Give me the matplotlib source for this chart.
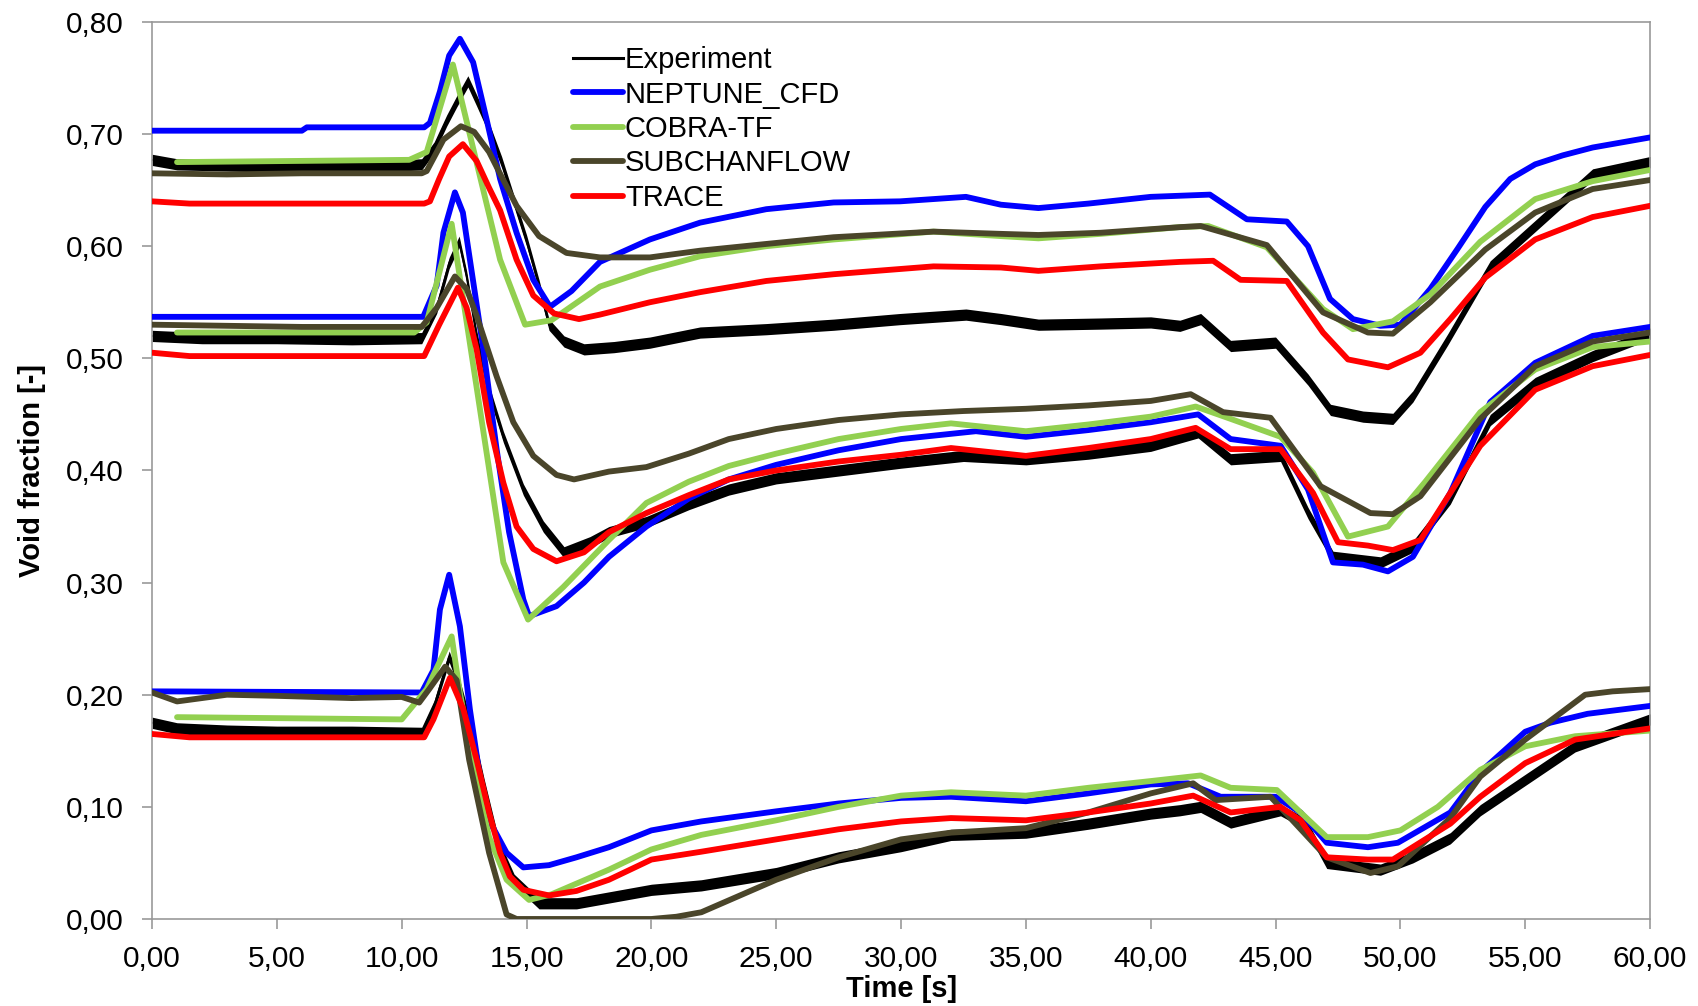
import matplotlib
matplotlib.use("Agg")
import matplotlib.pyplot as plt
from matplotlib.ticker import FuncFormatter

plt.rcParams['font.family'] = ['Liberation Sans', 'DejaVu Sans']

# ---------------- upper group ----------------
exp_top_t = [0, 1, 3, 5, 7, 9, 10.8, 11.3, 11.8, 12.2, 12.65, 13.0, 13.5, 14.0, 14.5, 15.0, 15.5, 15.9, 16.5,
             17.3, 18.5, 19.94, 21.95, 24.6, 27.3, 29.96, 32.6, 34, 35.5, 38, 40, 41.17, 42, 43.2, 45.0,
             46.3, 47.2, 48.5, 49.7, 50.5, 51.9, 53.6, 55.4, 57.7, 60]
exp_top_v = [0.677, 0.673, 0.672, 0.671, 0.672, 0.671, 0.673, 0.688, 0.712, 0.729, 0.747, 0.730, 0.705, 0.675,
             0.640, 0.605, 0.565, 0.530, 0.515, 0.508, 0.510, 0.514, 0.523, 0.526, 0.530, 0.535, 0.539, 0.535,
             0.530, 0.531, 0.532, 0.529, 0.535, 0.511, 0.514, 0.481, 0.454, 0.448, 0.446, 0.466, 0.517,
             0.582, 0.618, 0.664, 0.675]

nep_top_t = [0, 6, 6.2, 10.9, 11.13, 11.53, 11.9, 12.33, 12.86, 13.4, 13.94, 14.6, 15.27, 15.94, 16.8, 17.94,
             19.94, 21.95, 24.6, 27.3, 29.96, 32.6, 34, 35.5, 37.5, 40, 42.37, 43.85, 45.45, 46.3, 47.18,
             48.1, 49.2, 50.0, 51.2, 52.3, 53.4, 54.4, 55.4, 56.5, 57.7, 60]
nep_top_v = [0.703, 0.703, 0.706, 0.706, 0.710, 0.738, 0.770, 0.785, 0.764, 0.713, 0.660, 0.612, 0.570, 0.546,
             0.560, 0.586, 0.606, 0.621, 0.633, 0.639, 0.640, 0.644, 0.637, 0.634, 0.638, 0.644, 0.646,
             0.624, 0.622, 0.600, 0.553, 0.535, 0.529, 0.530, 0.562, 0.598, 0.635, 0.660, 0.673, 0.681,
             0.688, 0.697]

cob_top_t = [1.0, 10.3, 11.0, 12.05, 13.94, 14.94, 16.0, 17.94, 19.94, 21.95, 24.6, 27.3, 31.3, 34, 35.5, 38,
             41.17, 42.3, 44.65, 46.9, 48.1, 49.7, 51.2, 53.2, 55.4, 57.7, 60]
cob_top_v = [0.675, 0.677, 0.684, 0.762, 0.588, 0.530, 0.534, 0.564, 0.579, 0.591, 0.600, 0.606, 0.613, 0.609,
             0.607, 0.611, 0.617, 0.618, 0.599, 0.544, 0.526, 0.533, 0.557, 0.604, 0.642, 0.658, 0.668]

sub_top_t = [0, 3, 6, 10.8, 11.0, 11.67, 12.37, 12.9, 13.5, 14.0, 14.6, 15.5, 16.6, 17.94, 19.94, 21.95, 24.6,
             27.3, 31.3, 34, 35.5, 38, 41.17, 42, 44.65, 46.9, 48.7, 49.7, 51.2, 53.4, 55.4, 57.7, 60]
sub_top_v = [0.665, 0.664, 0.665, 0.665, 0.667, 0.695, 0.707, 0.702, 0.684, 0.662, 0.636, 0.609, 0.594, 0.590,
             0.590, 0.596, 0.602, 0.608, 0.613, 0.611, 0.610, 0.612, 0.617, 0.618, 0.601, 0.541, 0.523,
             0.522, 0.550, 0.597, 0.630, 0.651, 0.659]

tra_top_t = [0, 1.5, 10.9, 11.13, 11.5, 11.9, 12.45, 13.0, 13.5, 13.94, 14.6, 15.27, 16.1, 17.1, 17.94, 19.94,
             21.95, 24.6, 27.3, 31.3, 34, 35.5, 38, 41.17, 42.5, 43.6, 45.45, 46.9, 47.9, 49.5, 50.8, 52.0,
             53.4, 55.4, 57.7, 60]
tra_top_v = [0.640, 0.638, 0.638, 0.640, 0.660, 0.680, 0.691, 0.676, 0.652, 0.632, 0.588, 0.556, 0.540, 0.535,
             0.539, 0.550, 0.559, 0.569, 0.575, 0.582, 0.581, 0.578, 0.582, 0.586, 0.587, 0.570, 0.569,
             0.523, 0.499, 0.492, 0.505, 0.535, 0.572, 0.606, 0.626, 0.636]

# ---------------- middle group ----------------
exp_mid_t = [0, 2, 5, 8, 10.8, 11.4, 11.9, 12.3, 12.6, 13.0, 13.4, 14.07, 14.87, 15.67, 16.5, 17.54, 18.3,
             19.8, 21.5, 23.1, 25, 27.5, 30, 32.5, 35, 37.5, 40, 41.9, 43.2, 45.2, 46.3, 47.3, 49.2, 50.5,
             52, 53.6, 55.4, 57.7, 60]
exp_mid_v = [0.520, 0.518, 0.518, 0.517, 0.518, 0.545, 0.585, 0.604, 0.573, 0.520, 0.478, 0.430, 0.383, 0.350,
             0.327, 0.336, 0.345, 0.354, 0.370, 0.383, 0.393, 0.400, 0.407, 0.413, 0.410, 0.415, 0.422,
             0.434, 0.410, 0.413, 0.362, 0.323, 0.318, 0.332, 0.375, 0.445, 0.478, 0.502, 0.522]

nep_mid_t = [0, 10.86, 11.4, 11.67, 12.13, 12.45, 12.67, 13.27, 13.8, 14.3, 14.87, 15.1, 16.2, 17.3, 18.3,
             19.8, 21.5, 23.1, 25, 27.5, 30, 33, 35, 37.5, 40, 41.9, 43.2, 45.2, 46.3, 47.3, 48.5, 49.5,
             50.5, 52, 53.6, 55.4, 57.7, 60]
nep_mid_v = [0.537, 0.537, 0.565, 0.612, 0.648, 0.630, 0.597, 0.508, 0.419, 0.345, 0.285, 0.270, 0.279, 0.300,
             0.323, 0.350, 0.375, 0.392, 0.405, 0.418, 0.428, 0.435, 0.430, 0.436, 0.443, 0.450, 0.428,
             0.422, 0.383, 0.318, 0.316, 0.310, 0.323, 0.380, 0.461, 0.496, 0.520, 0.528]

cob_mid_t = [1.0, 10.5, 11.0, 12.0, 14.07, 15.06, 16.47, 18.3, 19.8, 21.5, 23.1, 25, 27.5, 30, 32, 35, 37.5, 40,
             41.8, 43.2, 45.2, 46.5, 47.9, 49.5, 51, 53.2, 55.4, 57.7, 60]
cob_mid_v = [0.523, 0.523, 0.532, 0.620, 0.318, 0.267, 0.296, 0.338, 0.371, 0.390, 0.404, 0.415, 0.428, 0.437,
             0.442, 0.435, 0.441, 0.448, 0.457, 0.446, 0.430, 0.398, 0.341, 0.350, 0.390, 0.452, 0.490,
             0.510, 0.515]

sub_mid_t = [0, 3, 6, 9, 10.8, 11.4, 12.13, 12.6, 13.0, 13.8, 14.47, 15.27, 16.2, 16.9, 18.3, 19.8, 21.5, 23.1,
             25, 27.5, 30, 32.5, 35, 37.5, 40, 41.6, 42.9, 44.8, 46.8, 48.8, 49.7, 50.8, 53.2, 55.4, 57.7, 60]
sub_mid_v = [0.530, 0.529, 0.528, 0.528, 0.528, 0.545, 0.573, 0.562, 0.538, 0.484, 0.443, 0.413, 0.396, 0.392,
             0.399, 0.403, 0.415, 0.428, 0.437, 0.445, 0.450, 0.453, 0.455, 0.458, 0.462, 0.468, 0.452,
             0.447, 0.386, 0.362, 0.361, 0.377, 0.446, 0.493, 0.515, 0.523]

tra_mid_t = [0, 1.5, 10.9, 11.5, 12.25, 12.6, 13.0, 13.5, 14.07, 14.6, 15.27, 16.2, 17.3, 18.3, 19.8, 21.5,
             23.1, 25, 27.5, 30, 32, 35, 37.5, 40, 41.8, 43.2, 45.2, 46.5, 47.5, 48.7, 49.7, 50.8, 53.2, 55.4,
             57.7, 60]
tra_mid_v = [0.505, 0.502, 0.502, 0.530, 0.563, 0.545, 0.508, 0.443, 0.389, 0.350, 0.330, 0.319, 0.327, 0.345,
             0.362, 0.378, 0.392, 0.400, 0.408, 0.414, 0.420, 0.413, 0.420, 0.428, 0.438, 0.419, 0.419,
             0.380, 0.336, 0.333, 0.329, 0.338, 0.422, 0.472, 0.493, 0.503]

# ---------------- lower group ----------------
exp_bot_t = [0, 1, 3, 5, 8, 10.8, 11.3, 11.9, 12.3, 12.8, 13.3, 13.9, 14.5, 15.5, 17, 18.5, 20, 22, 25, 27.5,
             30, 32, 35, 37.5, 40, 41.17, 42, 43.2, 45.2, 46.2, 47.05, 49.2, 50.5, 52, 53.2, 55, 57, 60]
exp_bot_v = [0.175, 0.170, 0.168, 0.167, 0.167, 0.166, 0.190, 0.234, 0.210, 0.170, 0.120, 0.065, 0.035, 0.014,
             0.014, 0.020, 0.026, 0.030, 0.041, 0.055, 0.065, 0.075, 0.077, 0.085, 0.094, 0.097, 0.100,
             0.086, 0.097, 0.085, 0.050, 0.044, 0.055, 0.072, 0.097, 0.124, 0.154, 0.178]

nep_bot_t = [0, 10.8, 11.27, 11.53, 11.9, 12.33, 12.73, 13.13, 13.5, 14.2, 14.87, 15.9, 17.0, 18.3, 20, 22, 25,
             27.5, 30, 32, 35, 37.5, 40, 41.5, 42.8, 45, 46, 47.05, 48.7, 49.9, 52, 53.2, 55, 56, 57.5, 60]
nep_bot_v = [0.203, 0.202, 0.222, 0.276, 0.307, 0.261, 0.187, 0.127, 0.088, 0.059, 0.046, 0.048, 0.055, 0.064,
             0.079, 0.087, 0.096, 0.103, 0.108, 0.109, 0.105, 0.112, 0.120, 0.121, 0.109, 0.109, 0.095,
             0.068, 0.064, 0.068, 0.095, 0.131, 0.167, 0.175, 0.183, 0.190]

cob_bot_t = [1.0, 10.0, 11.0, 12.0, 12.33, 12.87, 13.5, 14.2, 15.1, 16.0, 18.3, 20, 22, 25, 27.5, 30, 32, 35,
             37.5, 40, 42, 43.2, 45.05, 47.05, 48.7, 50.0, 51.5, 53.2, 55, 57, 60]
cob_bot_v = [0.180, 0.178, 0.205, 0.252, 0.202, 0.136, 0.073, 0.035, 0.017, 0.022, 0.044, 0.062, 0.075, 0.088,
             0.100, 0.110, 0.113, 0.110, 0.117, 0.123, 0.128, 0.117, 0.115, 0.073, 0.073, 0.079, 0.100,
             0.133, 0.154, 0.163, 0.168]

sub_bot_t = [0, 1.0, 3.0, 5.0, 8.0, 10.0, 10.7, 11.1, 11.74, 12.2, 12.7, 13.5, 14.2, 14.6, 20, 21, 22, 25,
             27.5, 30, 32, 35, 37.5, 40, 41.7, 42.6, 44.8, 47.05, 48.8, 49.9, 52, 53.2, 55, 57.4, 58.5, 60]
sub_bot_v = [0.202, 0.194, 0.200, 0.199, 0.197, 0.198, 0.193, 0.205, 0.225, 0.213, 0.142, 0.059, 0.004, 0.000,
             0.000, 0.002, 0.006, 0.035, 0.055, 0.071, 0.077, 0.081, 0.095, 0.112, 0.121, 0.106, 0.109,
             0.055, 0.041, 0.047, 0.090, 0.127, 0.160, 0.200, 0.203, 0.205]

tra_bot_t = [0, 1.5, 10.9, 11.27, 11.93, 12.47, 13.0, 13.5, 13.94, 14.33, 14.87, 15.9, 17, 18.3, 20, 22, 25,
             27.5, 30, 32, 35, 37.5, 40, 41.7, 43.2, 45.2, 46, 47.05, 48.7, 49.7, 52, 53.2, 55, 57, 60]
tra_bot_v = [0.165, 0.162, 0.162, 0.178, 0.215, 0.187, 0.142, 0.095, 0.059, 0.038, 0.026, 0.021, 0.025, 0.035,
             0.053, 0.060, 0.071, 0.080, 0.087, 0.090, 0.088, 0.095, 0.103, 0.110, 0.095, 0.100, 0.088,
             0.055, 0.053, 0.053, 0.085, 0.109, 0.139, 0.160, 0.170]

series_names = ["Experiment", "NEPTUNE_CFD", "COBRA-TF", "SUBCHANFLOW", "TRACE"]
series_colors = ["#000000", "#0000FF", "#92D050", "#4A452A", "#FF0000"]
x_ticks = [0, 5, 10, 15, 20, 25, 30, 35, 40, 45, 50, 55, 60]
y_ticks = [0.0, 0.1, 0.2, 0.3, 0.4, 0.5, 0.6, 0.7, 0.8]

experiment = [(exp_top_t, exp_top_v), (exp_mid_t, exp_mid_v), (exp_bot_t, exp_bot_v)]
models = [
    [(nep_top_t, nep_top_v), (nep_mid_t, nep_mid_v), (nep_bot_t, nep_bot_v)],
    [(cob_top_t, cob_top_v), (cob_mid_t, cob_mid_v), (cob_bot_t, cob_bot_v)],
    [(sub_top_t, sub_top_v), (sub_mid_t, sub_mid_v), (sub_bot_t, sub_bot_v)],
    [(tra_top_t, tra_top_v), (tra_mid_t, tra_mid_v), (tra_bot_t, tra_bot_v)],
]

fig = plt.figure(figsize=(16.99, 10.06), dpi=100)
ax = fig.add_axes([0.0895, 0.0865, 0.8817, 0.8917])

# measured signal: thin trace with its scatter band
noise_half = 0.005
for i, (t, v) in enumerate(experiment):
    lo = [y - noise_half for y in v]
    hi = [y + noise_half for y in v]
    ax.fill_between(t, lo, hi, color="black", lw=0, zorder=2)
    ax.plot(t, v, color="black", lw=1.4, zorder=2,
            label=series_names[0] if i == 0 else None)

for k, groups in enumerate(models):
    for i, (t, v) in enumerate(groups):
        ax.plot(t, v, color=series_colors[k + 1], lw=4.2, zorder=3 + k,
                solid_joinstyle="round", solid_capstyle="round",
                label=series_names[k + 1] if i == 0 else None)

ax.set_xlim(0, 60)
ax.set_ylim(0, 0.8)
ax.set_xticks(x_ticks)
ax.set_yticks(y_ticks)
ax.xaxis.set_major_formatter(FuncFormatter(lambda v, p: f"{v:.2f}".replace(".", ",")))
ax.yaxis.set_major_formatter(FuncFormatter(lambda v, p: f"{v:.2f}".replace(".", ",")))

spine_col = "#999999"
for s in ax.spines.values():
    s.set_color(spine_col)
    s.set_linewidth(1.2)
ax.tick_params(axis="y", direction="out", length=7.5, width=1.2, color=spine_col,
               labelsize=21.5, pad=13)
ax.tick_params(axis="x", direction="out", length=7.5, width=1.2, color=spine_col,
               labelsize=21.5, pad=11)

ax.set_xlabel("Time [s]", fontsize=21, fontweight="bold")
ax.set_ylabel("Void fraction [-]", fontsize=21, fontweight="bold")
ax.xaxis.set_label_coords(0.5, -0.062)
ax.yaxis.set_label_coords(-0.071, 0.5)

leg = ax.legend(loc="upper left", bbox_to_anchor=(0.281, 0.973), frameon=False,
                fontsize=21, handlelength=1.7, handletextpad=0.08, labelspacing=0.22,
                borderaxespad=0, borderpad=0)
for line in leg.get_lines():
    if line.get_color() == "black":
        line.set_linewidth(2.2)
    else:
        line.set_linewidth(4.2)

fig.savefig("out.png", dpi=100, facecolor="white")
